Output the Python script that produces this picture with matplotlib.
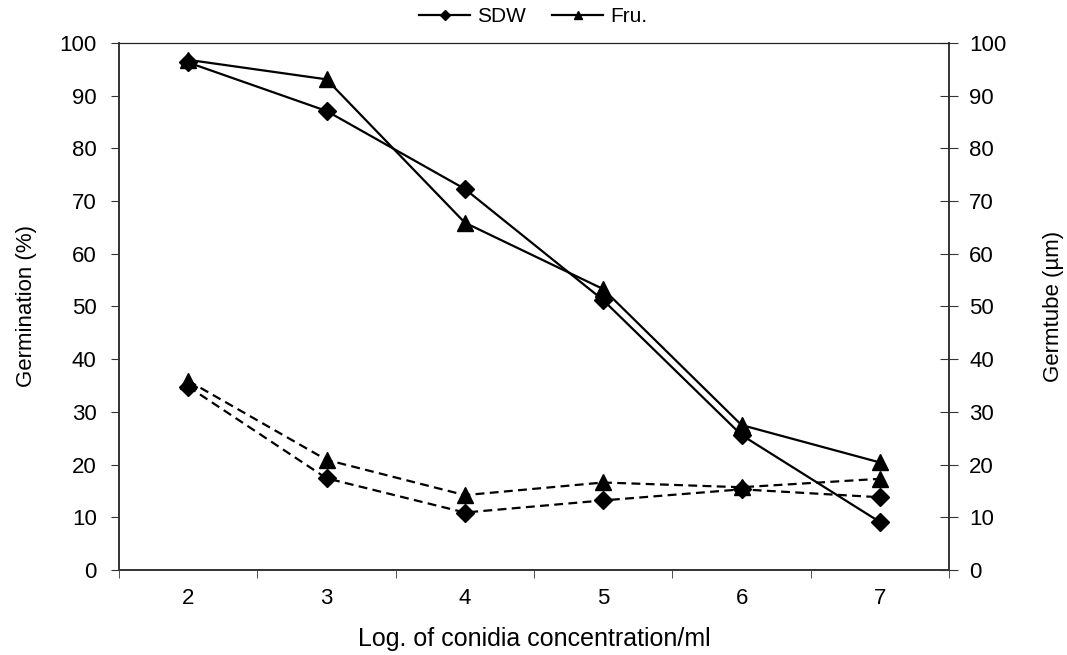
import matplotlib
matplotlib.use("Agg")
import matplotlib.pyplot as plt
from matplotlib.lines import Line2D

plt.rcParams['font.family'] = ['Liberation Sans', 'DejaVu Sans']

# data
conc = [2, 3, 4, 5, 6, 7]
germ_sdw = [96.3, 87.1, 72.3, 51.2, 25.6, 9.1]
germ_fru = [96.8, 93.1, 65.9, 53.3, 27.5, 20.4]
tube_sdw = [34.8, 17.4, 10.9, 13.2, 15.3, 13.8]
tube_fru = [35.9, 20.9, 14.2, 16.6, 15.7, 17.3]


def linePlot():
    fig = plt.figure(figsize=(10.67, 6.55), dpi=100)
    ax = fig.add_axes([0.1115, 0.1298, 0.778, 0.8046])
    ax2 = ax.twinx()

    dash = (0, (4, 2.4))
    ax.plot(conc, germ_sdw, color='black', lw=1.6, marker='D', ms=9)
    ax.plot(conc, germ_fru, color='black', lw=1.6, marker='^', ms=11)
    ax2.plot(conc, tube_sdw, color='black', lw=1.6, ls=dash, marker='D', ms=9)
    ax2.plot(conc, tube_fru, color='black', lw=1.6, ls=dash, marker='^', ms=11)

    for a in (ax, ax2):
        a.set_ylim(0, 100)
        a.set_xlim(1.5, 7.5)
        a.set_yticks(range(0, 101, 10))
        for s in a.spines.values():
            s.set_color('#333333')
            s.set_linewidth(1.2)
        a.spines['top'].set_linewidth(0.8)
        a.spines['top'].set_color('#222222')

    ax.set_xticks(conc)
    ax.set_xticklabels([str(c) for c in conc])
    ax.tick_params(axis='x', length=0, labelsize=16, pad=13)
    ax.set_xticks([1.5, 2.5, 3.5, 4.5, 5.5, 6.5, 7.5], minor=True)
    ax.tick_params(axis='x', which='minor', length=6, direction='out', color='#333333')
    ax.tick_params(axis='y', length=6, direction='out', labelsize=16, color='#333333', pad=10)
    ax2.tick_params(axis='y', length=13, direction='inout', labelsize=16, color='#333333', pad=8)

    ax.set_xlabel("Log. of conidia concentration/ml", fontsize=18, labelpad=13)
    ax.set_ylabel("Germination (%)", fontsize=16, labelpad=16)
    ax2.set_ylabel("Germtube (\u00b5m)", fontsize=16, labelpad=26)

    handles = [Line2D([], [], color='black', lw=1.6, marker='D', ms=5),
               Line2D([], [], color='black', lw=1.6, marker='^', ms=6)]
    fig.legend(handles, ["SDW", "Fru."], loc='center', bbox_to_anchor=(0.5, 0.975),
               ncol=2, frameon=False, fontsize=15, handlelength=2.45,
               handletextpad=0.35, columnspacing=1.25, borderpad=0.1)

    fig.savefig("out.png", dpi=100)


if __name__ == "__main__":
    linePlot()
